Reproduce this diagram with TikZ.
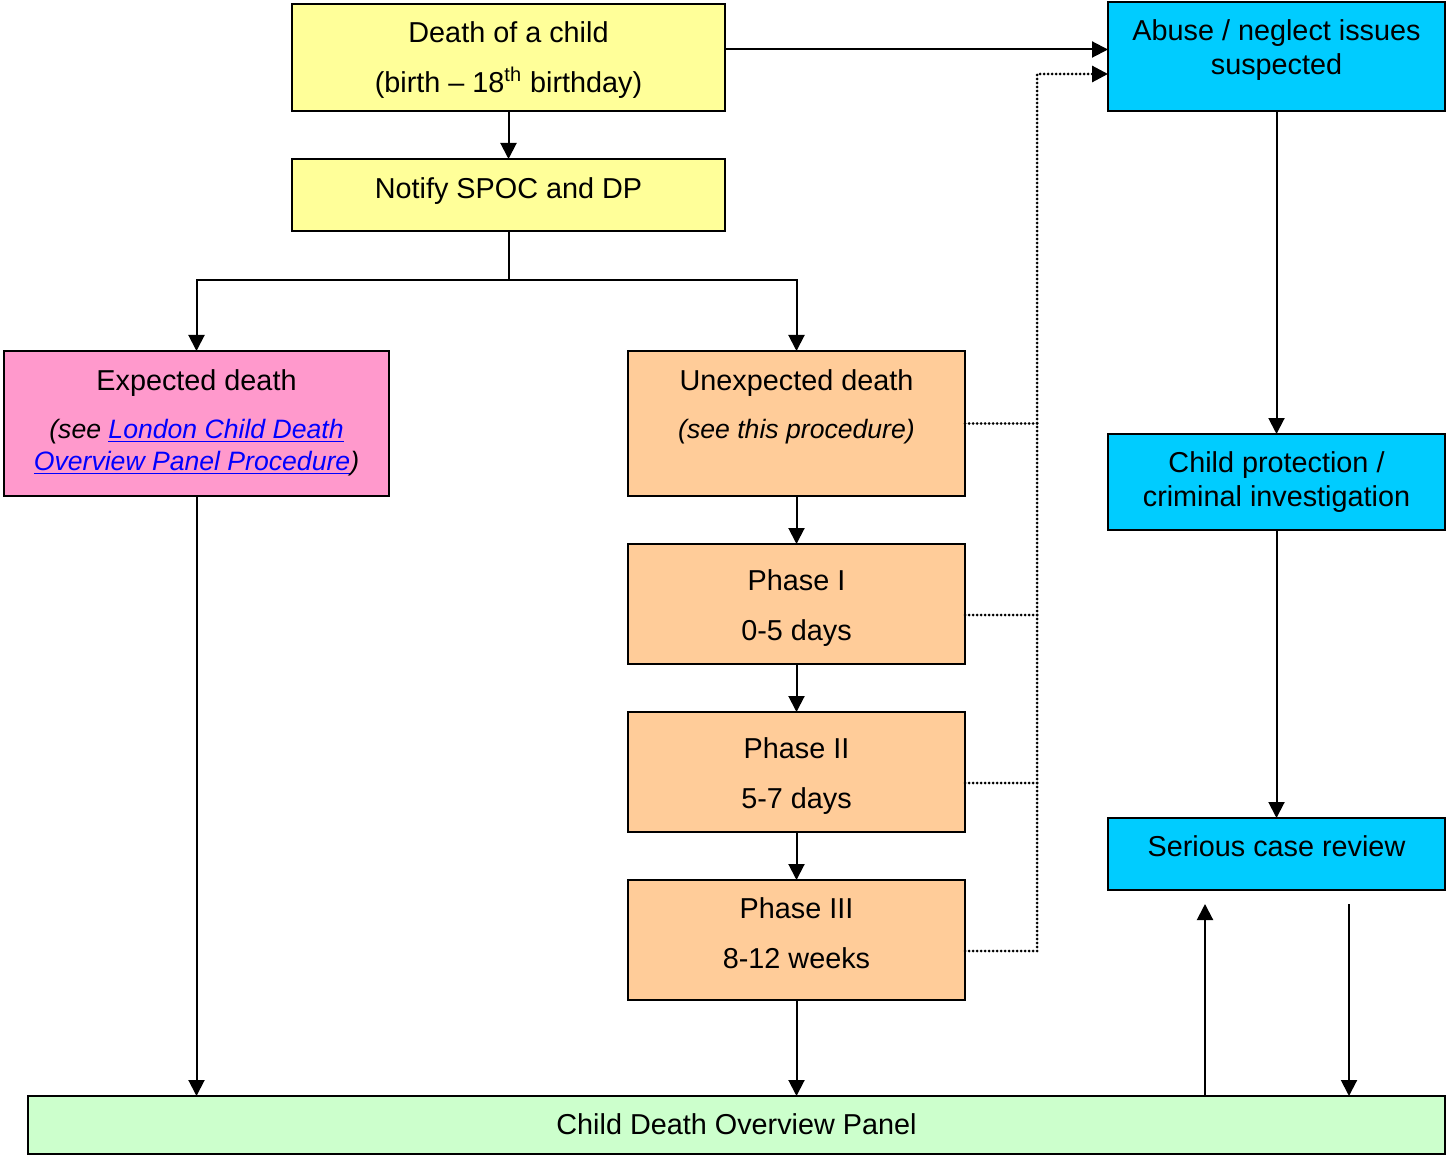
\documentclass[tikz,border=0pt]{standalone}
\usepackage{fontspec}
\setmainfont{Liberation Sans}
\usepackage[]{xcolor}
\usetikzlibrary{arrows.meta}
\definecolor{paleyellow}{HTML}{FFFF99}
\definecolor{palepink}{HTML}{FF99CC}
\definecolor{paleorange}{HTML}{FFCC99}
\definecolor{skyblue}{HTML}{00CCFF}
\definecolor{palegreen}{HTML}{CCFFCC}
\definecolor{linkblue}{HTML}{0000FF}
\newcommand{\linktext}[1]{\textcolor{linkblue}{\underline{#1}}}
\newcommand{\smallit}{\fontsize{13.3}{16}\selectfont\itshape}

\begin{document}
\begin{tikzpicture}[x = 0.5pt, y = -0.5pt,
  stage/.style = {draw, line width = 1pt, inner sep = 0pt, outer sep = 0pt},
  arr/.style = {line width = 1pt, -{Triangle[length = 8pt, width = 8pt]}},
  dotline/.style = {line width = 1.5pt, line cap = round, dash pattern = on 0pt off 2pt},
  txt/.style = {align = center, inner sep = 0pt, font = \fontsize{14.4}{17}\selectfont}]
\useasboundingbox (0,0) rectangle (1446,1155);
% boxes
\node[stage, fill = paleyellow, minimum width = 216.5pt, minimum height = 53.5pt] (death) at (508.5,57.5) {};
\node[stage, fill = paleyellow, minimum width = 216.5pt, minimum height = 36pt] (notify) at (508.5,195) {};
\node[stage, fill = palepink, minimum width = 192.5pt, minimum height = 72.5pt] (expected) at (196.5,423.5) {};
\node[stage, fill = paleorange, minimum width = 168.5pt, minimum height = 72.5pt] (unexp) at (796.5,423.5) {};
\node[stage, fill = paleorange, minimum width = 168.5pt, minimum height = 60pt] (phase1) at (796.5,604) {};
\node[stage, fill = paleorange, minimum width = 168.5pt, minimum height = 60pt] (phase2) at (796.5,772) {};
\node[stage, fill = paleorange, minimum width = 168.5pt, minimum height = 60pt] (phase3) at (796.5,940) {};
\node[stage, fill = skyblue, minimum width = 168.5pt, minimum height = 54.5pt] (abuse) at (1276.5,56.5) {};
\node[stage, fill = skyblue, minimum width = 168.5pt, minimum height = 48pt] (protect) at (1276.5,482) {};
\node[stage, fill = skyblue, minimum width = 168.5pt, minimum height = 36pt] (review) at (1276.5,854) {};
\node[stage, fill = palegreen, minimum width = 708.5pt, minimum height = 29pt] (panel) at (736.5,1125) {};
% texts
\node[txt] (death-txt) at (508.5,60) {Death of a child\\[8pt](birth – 18\textsuperscript{th} birthday)};
\node[txt] (notify-txt) at (508.5,191) {Notify SPOC and DP};
\node[txt] (expected-txt) at (196.5,422.5) {Expected death\\[7pt]{\smallit (see \linktext{London Child Death}}\\[-1pt]{\smallit\linktext{Overview Panel Procedure})}};
\node[txt] (unexp-txt) at (796.5,407) {Unexpected death\\[7pt]{\smallit (see this procedure)}};
\node[txt] (phase1-txt) at (796.5,608) {Phase I\\[8pt]0-5 days};
\node[txt] (phase2-txt) at (796.5,776) {Phase II\\[8pt]5-7 days};
\node[txt] (phase3-txt) at (796.5,933) {Phase III\\[8pt]8-12 weeks};
\node[txt] (abuse-txt) at (1276.5,50) {Abuse / neglect issues\\suspected};
\node[txt] (protect-txt) at (1276.5,482) {Child protection /\\criminal investigation};
\node[txt] (review-txt) at (1276.5,846) {Serious case review};
\node[txt] (panel-txt) at (736.5,1124) {Child Death Overview Panel};
% connectors
\coordinate (split) at (508.5,280);
\coordinate (bus) at (1037,500);
\coordinate (up-end) at (1205,904);
\coordinate (down-start) at (1349,904);
\draw[arr] (death.south) -- (notify.north);
\draw[line width = 1pt] (notify.south) -- (split);
\draw[arr] (split) -| (expected.north);
\draw[arr] (split) -| (unexp.north);
\draw[arr] (unexp.south) -- (phase1.north);
\draw[arr] (phase1.south) -- (phase2.north);
\draw[arr] (phase2.south) -- (phase3.north);
\draw[arr] ([yshift = 4pt]death.east) -- ([yshift = 4pt]death.east -| abuse.west);
\draw[arr] (abuse.south) -- (protect.north);
\draw[arr] (protect.south) -- (review.north);
\draw[arr] (expected.south) -- (expected.south |- panel.north);
\draw[arr] (phase3.south) -- (phase3.south |- panel.north);
\draw[arr] (up-end |- panel.north) -- (up-end);
\draw[arr] (down-start) -- (down-start |- panel.north);
% dotted links to abuse box
\draw[dotline] (unexp.east) -- (unexp.east -| bus);
\draw[dotline] ([yshift = -5.5pt]phase1.east) -- ([yshift = -5.5pt]phase1.east -| bus);
\draw[dotline] ([yshift = -5.5pt]phase2.east) -- ([yshift = -5.5pt]phase2.east -| bus);
\draw[arr, dotline] ([yshift = -5.5pt]phase3.east) -| ([yshift = -8.75pt]abuse.west -| bus) -- ([yshift = -8.75pt]abuse.west);
\end{tikzpicture}
\end{document}
